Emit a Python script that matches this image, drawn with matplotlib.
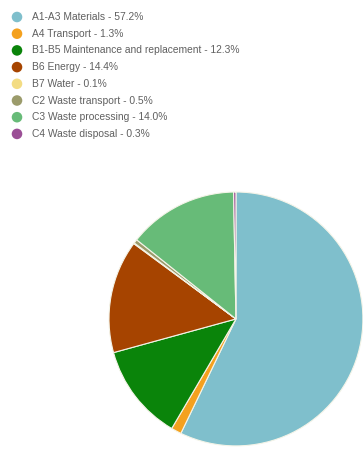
import matplotlib.pyplot as plt

labels = ["A1-A3 Materials", "A4 Transport", "B1-B5 Maintenance and replacement",
          "B6 Energy", "B7 Water", "C2 Waste transport", "C3 Waste processing",
          "C4 Waste disposal"]
shares = [57.2, 1.3, 12.3, 14.4, 0.1, 0.5, 14.0, 0.3]
colors = ["#7fbfcc", "#f4a11e", "#0a840a", "#a64400", "#f3dc83", "#9b9b6b",
          "#67bb78", "#9b4f96"]

fig = plt.figure(figsize=(3.63, 4.55), dpi=100)

# pie, starts at 12 o'clock and runs clockwise
ax = fig.add_axes([0.300, 0.020, 0.700, 0.558])
ax.pie(shares, colors=colors, startangle=90, counterclock=False,
       wedgeprops=dict(edgecolor="#f4f4e8", linewidth=0.8))
ax.set_xlim(-1.0, 1.0)
ax.set_ylim(-1.0, 1.0)
ax.set_aspect("equal")

# legend drawn in pixel coordinates
lg = fig.add_axes([0, 0, 1, 1])
lg.set_xlim(0, 363)
lg.set_ylim(455, 0)
lg.axis("off")
for i, (name, v, c) in enumerate(zip(labels, shares, colors)):
    y = 17 + i * 16.7
    lg.scatter(17, y, s=58, color=c, edgecolors="none")
    lg.text(32, y, f"{name} - {v:.1f}%", va="center", ha="left",
            fontsize=7.4, color="#606060", family="Liberation Sans")

fig.savefig("out.png", dpi=100)
